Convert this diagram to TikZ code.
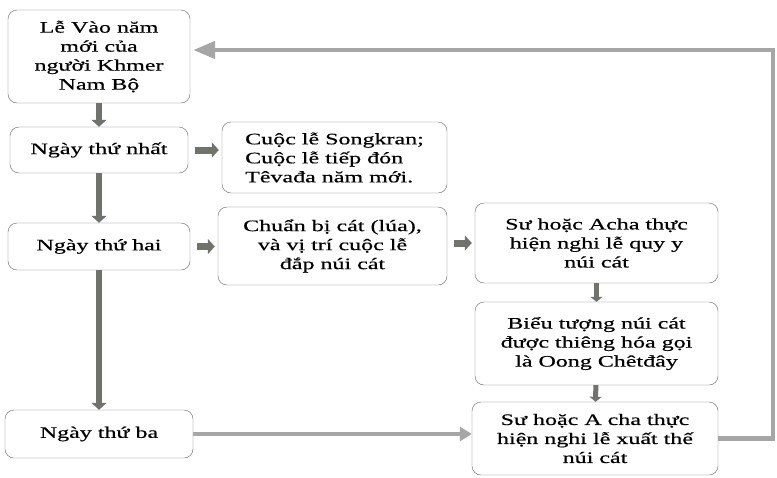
\documentclass[tikz,border=0pt]{standalone}
\usepackage{fontspec}
\setmainfont{Liberation Serif}[FakeStretch=1.5,FakeBold=0.5]
\usepackage{tikz}
\usetikzlibrary{arrows.meta}
\definecolor{bargray}{RGB}{112,114,108}
\definecolor{boxline}{RGB}{100,100,100}

\begin{document}
\begin{tikzpicture}[x=1pt,y=-1pt,
  stage/.style={draw=boxline,rounded corners=9pt,thin,align=center,inner sep=2pt,font=\fontsize{16}{19}\selectfont},
  bar/.style={draw=bargray,line width=6pt,-{Triangle[length=7pt,width=15pt]}},
  stub/.style={bar,line width=7pt,shorten <=7pt,shorten >=3pt},
  thin bar/.style={bar,line width=5pt,-{Triangle[length=5pt,width=12pt]}},
  long/.style={bar,draw=gray!70,line width=4.5pt,-{Triangle[length=12pt,width=14pt]}},
  back/.style={long,-{Triangle[length=22pt,width=17pt]},shorten >=3pt}]

      \useasboundingbox (0,0) rectangle (777,477);

      \node [stage,minimum width=182pt,minimum height=93pt] (lvn) at (99,56.5) {Lễ Vào năm\\mới của\\người Khmer\\Nam Bộ};
      \node [stage,minimum width=178pt,minimum height=46pt] (day1) at (99,150) {Ngày thứ nhất};
      \node [stage,minimum width=182pt,minimum height=47pt] (day2) at (99,246.5) {Ngày thứ hai};
      \node [stage,minimum width=188pt,minimum height=48pt] (day3) at (99,434) {Ngày thứ ba};

      \node [stage,align=left,minimum width=225pt,minimum height=71pt] (songkran) at (334.5,157.5) {Cuộc lễ Songkran;\\Cuộc lễ tiếp đón\\Têvađa năm mới.};
      \node [stage,minimum width=229pt,minimum height=78pt] (cat) at (332.5,246) {Chuẩn bị cát (lúa),\\và vị trí cuộc lễ\\đắp núi cát};

      \node [stage,minimum width=243pt,minimum height=80pt] (quyy) at (596.5,243) {Sư hoặc Acha thực\\hiện nghi lễ quy y\\núi cát};
      \node [stage,minimum width=243pt,minimum height=83pt] (oong) at (596.5,343.5) {Biểu tượng núi cát\\được thiêng hóa gọi\\là Oong Chêtđây};
      \node [stage,minimum width=246pt,minimum height=73pt] (xuat) at (595,438.5) {Sư hoặc A cha thực\\hiện nghi lễ xuất thế\\núi cát};

      \coordinate (turn) at (773,50);

      \draw [bar] (lvn) -- (day1);
      \draw [bar] (day1) -- (day2);
      \draw [bar] (day2) -- (day3);
      \draw [stub] (day1.east) -- (day1.east -| songkran.west);
      \draw [stub] (day2.east) -- (day2.east -| cat.west);
      \draw [stub] (cat.east |- quyy.east) -- (quyy.west);
      \draw [thin bar] (quyy) -- (oong);
      \draw [thin bar] (oong) -- (xuat);
      \draw [long] (day3.east) -- (day3.east -| xuat.west);
      \draw [back] (xuat.east) -| (turn) -- (turn -| lvn.east);

\end{tikzpicture}
\end{document}
